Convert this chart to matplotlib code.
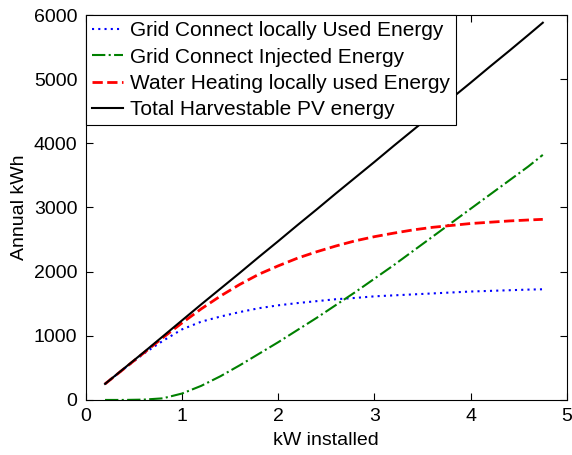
import matplotlib
matplotlib.use("Agg")
import matplotlib.pyplot as plt

kw = [0.2, 0.4, 0.6, 0.8, 1.0, 1.2, 1.4, 1.6, 1.8, 2.0, 2.2, 2.4, 2.6, 2.8,
      3.0, 3.2, 3.4, 3.6, 3.8, 4.0, 4.2, 4.4, 4.6, 4.75]
grid_local = [250, 490, 720, 920, 1100, 1220, 1300, 1370, 1430, 1475, 1510, 1540,
              1570, 1590, 1615, 1630, 1645, 1660, 1675, 1690, 1700, 1710, 1720, 1725]
grid_injected = [0, 0, 5, 25, 100, 220, 370, 540, 720, 900, 1090, 1280, 1480, 1680,
                 1890, 2100, 2320, 2540, 2760, 2980, 3200, 3420, 3640, 3820]
water_local = [250, 490, 730, 970, 1200, 1420, 1620, 1800, 1960, 2090, 2210, 2310,
               2400, 2480, 2545, 2600, 2650, 2690, 2720, 2750, 2770, 2790, 2805, 2815]
total_pv = [250, 495, 740, 990, 1240, 1490, 1735, 1980, 2230, 2475, 2725, 2970,
            3220, 3465, 3710, 3960, 4205, 4450, 4700, 4945, 5195, 5440, 5690, 5880]

labels = ["Grid Connect locally Used Energy", "Grid Connect Injected Energy",
          "Water Heating locally used Energy", "Total Harvestable PV energy"]
xticks = [0, 1, 2, 3, 4, 5]
yticks = [0, 1000, 2000, 3000, 4000, 5000, 6000]

plt.rcParams['font.family'] = ['Liberation Sans', 'DejaVu Sans']
fig = plt.figure(figsize=(5.72, 4.55), dpi=100)
ax = fig.add_axes([0.150, 0.121, 0.841, 0.846])

ax.plot(kw, grid_local, linestyle=(0, (1, 2)), color='#0000ff', lw=1.5, label=labels[0])
ax.plot(kw, grid_injected, linestyle='-.', color='#008000', lw=1.5, label=labels[1])
ax.plot(kw, water_local, linestyle='--', color='#ff0000', lw=2.0, label=labels[2])
ax.plot(kw, total_pv, linestyle='-', color='black', lw=1.5, label=labels[3])

ax.set_xlim(0, 5)
ax.set_ylim(0, 6000)
ax.set_xticks(xticks)
ax.set_yticks(yticks)
ax.tick_params(direction='in', top=True, right=True, length=5, labelsize=14,
               width=0.8, pad=6)
for s in ax.spines.values():
    s.set_linewidth(0.8)
ax.set_xlabel("kW installed", fontsize=14, labelpad=5)
ax.set_ylabel("Annual kWh", fontsize=14)

leg = ax.legend(loc='upper left', fontsize=15, frameon=True, fancybox=False,
                edgecolor='black', framealpha=1, borderaxespad=0,
                handlelength=1.5, handletextpad=0.3, labelspacing=0.35,
                borderpad=0.3)
leg.get_frame().set_linewidth(0.8)

fig.savefig("out.png", dpi=100)
